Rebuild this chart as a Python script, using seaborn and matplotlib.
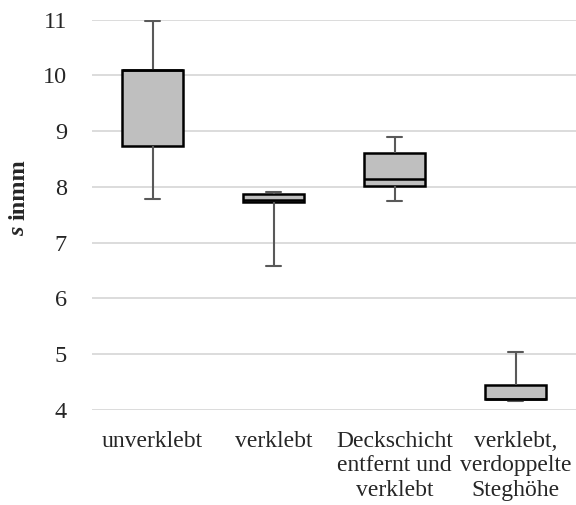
import matplotlib
matplotlib.use("Agg")
import matplotlib.pyplot as plt
import seaborn as sns
import pandas as pd

categories = ["unverklebt", "verklebt", "Deckschicht\nentfernt und\nverklebt", "verklebt,\nverdoppelte\nSteghöhe"]
# five-number summaries: min, Q1, median, Q3, max
mins    = [7.78, 6.58, 7.75, 4.17]
q1s     = [8.73, 7.72, 8.01, 4.19]
medians = [10.09, 7.76, 8.14, 4.19]
q3s     = [10.095, 7.87, 8.61, 4.45]
maxs    = [10.98, 7.90, 8.90, 5.035]
y_ticks = [4, 5, 6, 7, 8, 9, 10, 11]

rows = []
for c, a, b, m, d, e in zip(categories, mins, q1s, medians, q3s, maxs):
    for v in (a, b, m, d, e):
        rows.append({"cat": c, "s": v})
df = pd.DataFrame(rows)

sns.set_style("white")
plt.rcParams["font.family"] = ["Liberation Serif", "DejaVu Serif"]

fig = plt.figure(figsize=(5.76, 5.05), dpi=100)
ax = fig.add_axes([92 / 576, 1 - 410 / 505, 1 - 92 / 576, (410 - 19.5) / 505])

sns.boxplot(
    data=df, x="cat", y="s", order=categories, ax=ax,
    whis=(0, 100), width=0.51, color="#bfbfbf", saturation=1,
    boxprops=dict(edgecolor="black", linewidth=1.8, facecolor="#bfbfbf"),
    medianprops=dict(color="black", linewidth=1.8),
    whiskerprops=dict(color="#595959", linewidth=1.5),
    capprops=dict(color="#595959", linewidth=1.5),
    capwidths=0.125,
    showfliers=False,
)

ax.set_ylim(4, 11)
ax.set_xlim(-0.5, 3.5)
ax.set_yticks(y_ticks)
ax.set_yticklabels([str(t) for t in y_ticks], fontsize=17.5)
ax.set_xticks(range(len(categories)))
ax.set_xticklabels(categories, fontsize=17, linespacing=1.22)
ax.yaxis.grid(True, color="#d9d9d9", linewidth=1.3)
ax.set_axisbelow(True)
for sp in ax.spines.values():
    sp.set_visible(False)
ax.tick_params(axis="both", length=0)
ax.tick_params(axis="x", pad=15)
ax.tick_params(axis="y", pad=18)
ax.set_xlabel("")
ax.set_ylabel("")
fig.text(19 / 576, 1 - 220 / 505, "inmm", rotation=90, fontsize=17.5,
         fontweight="bold", ha="center", va="bottom")
fig.text(19 / 576, 1 - 226 / 505, "s", rotation=90, fontsize=17.5,
         fontweight="bold", fontstyle="italic", ha="center", va="top")

fig.savefig("out.png", dpi=100)
